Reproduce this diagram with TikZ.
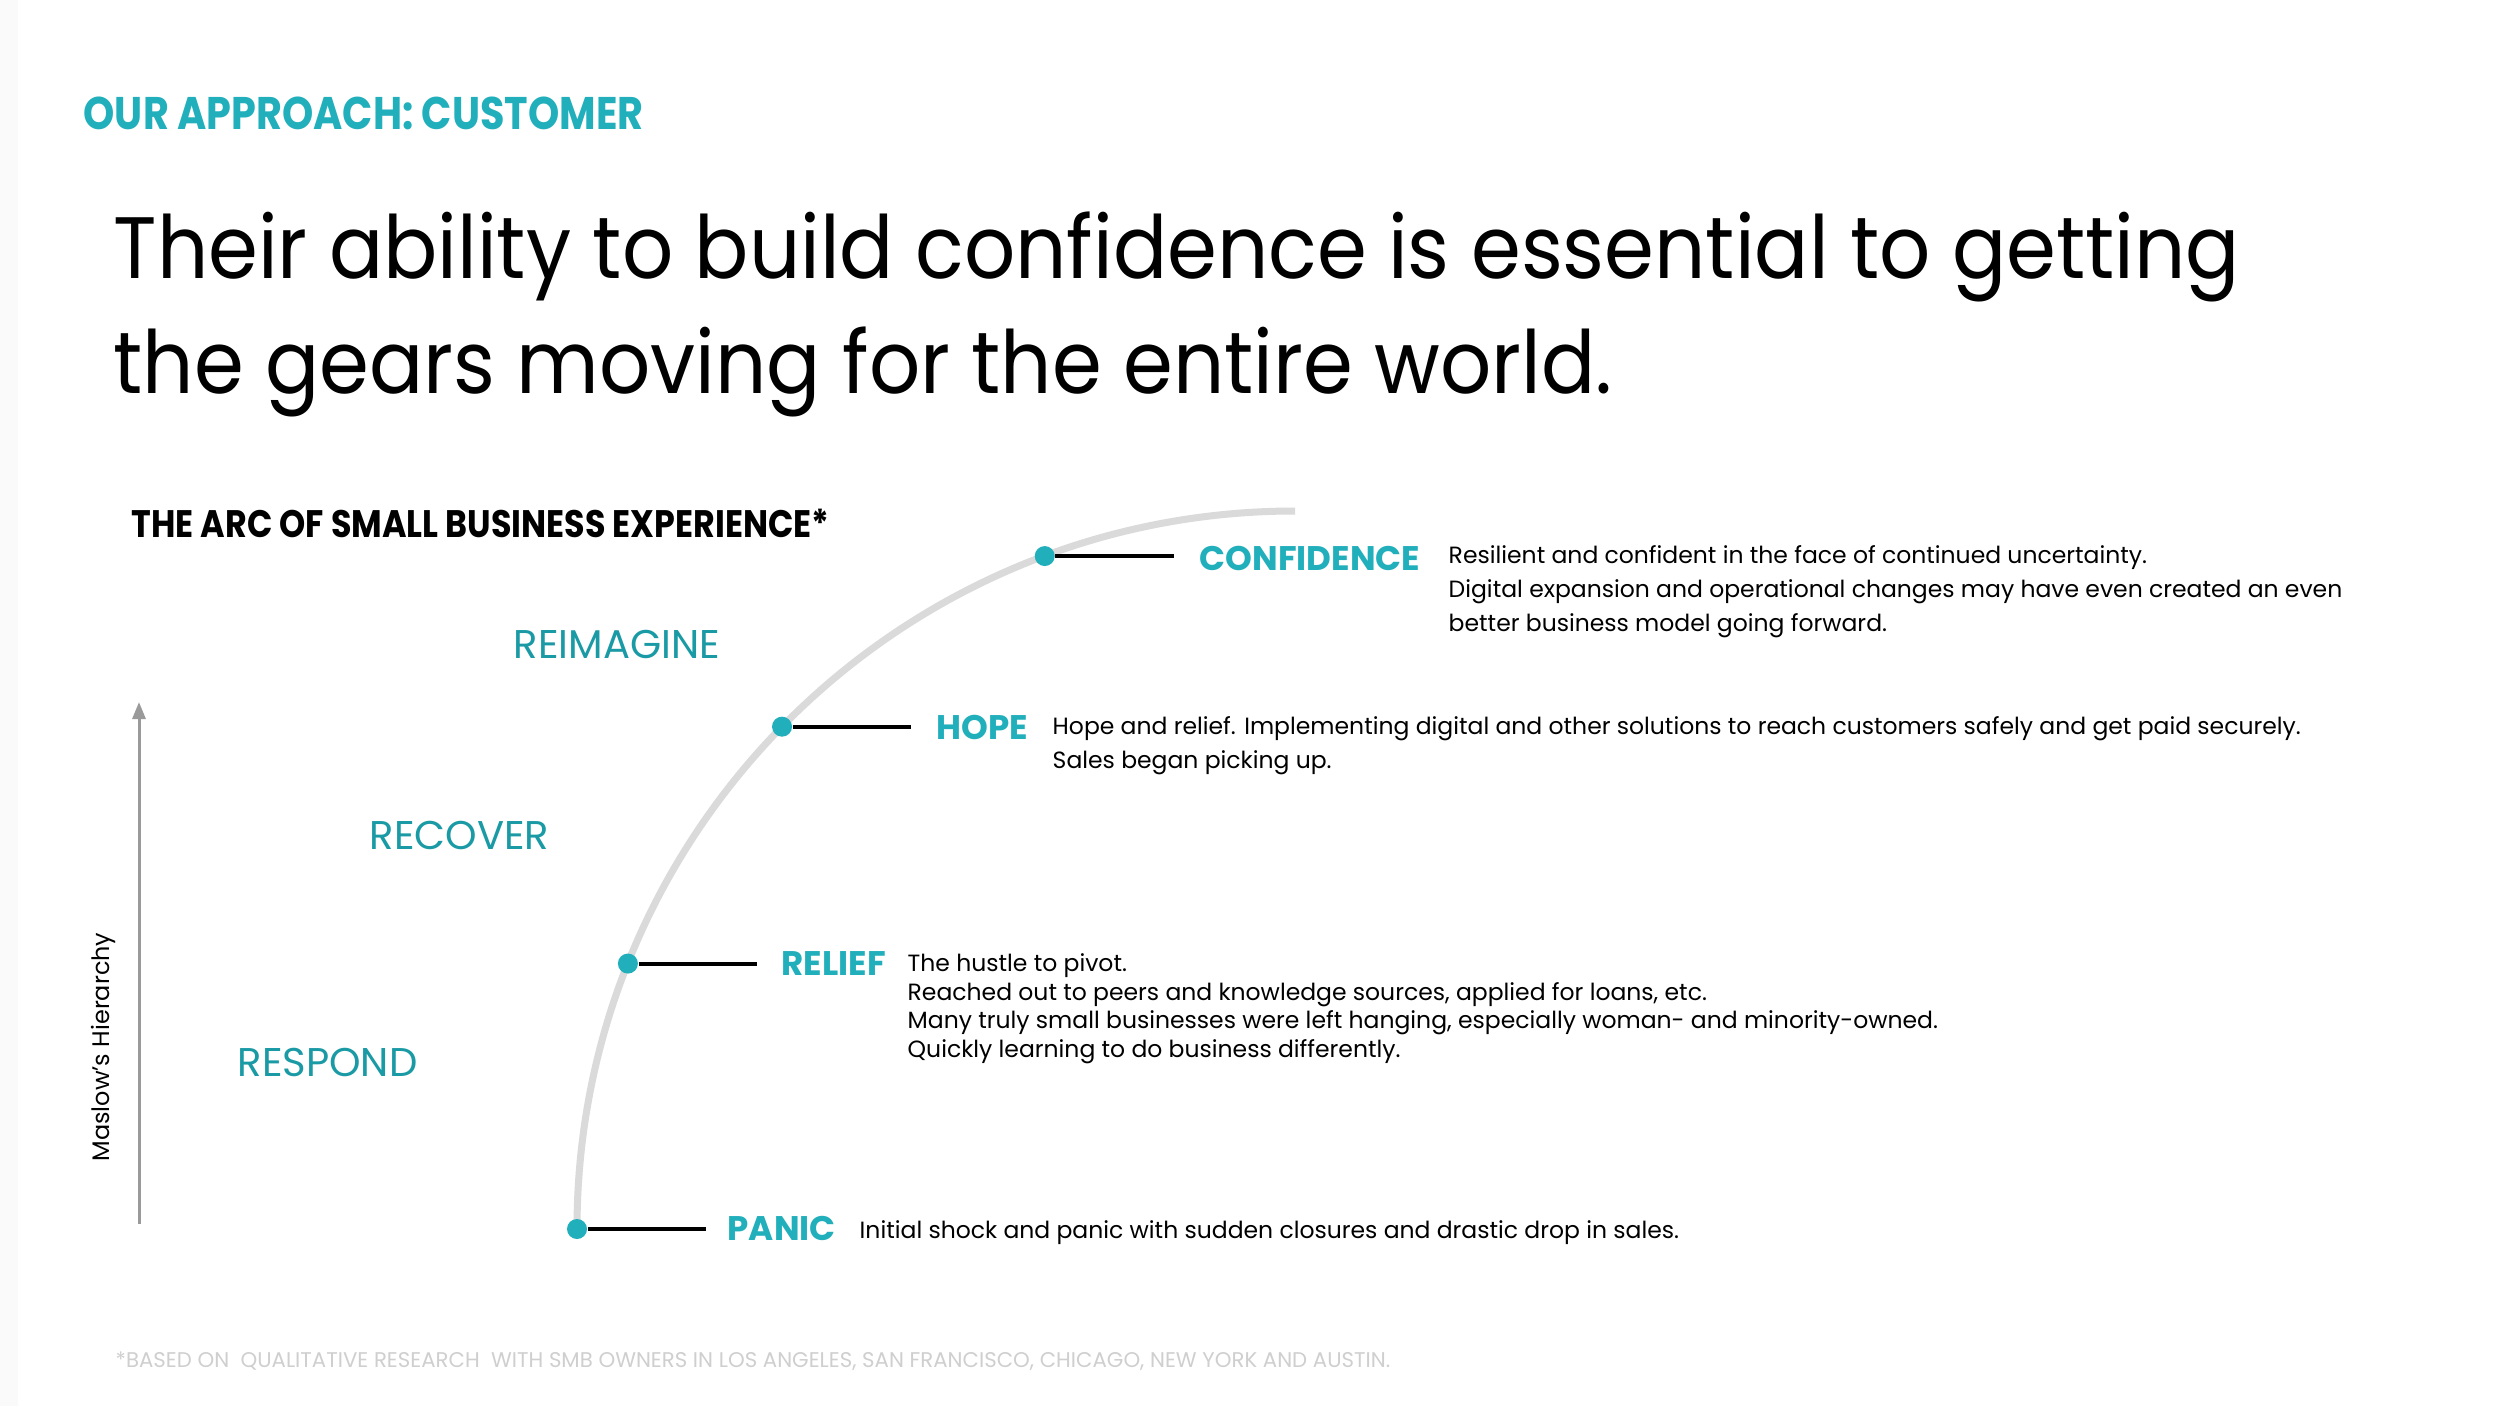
\documentclass[tikz,border=0pt]{standalone}
\usepackage{fontspec}
\setmainfont{Poppins}
\newfontfamily\narrowfont[FakeStretch=0.87]{Poppins}
\newfontfamily\headfont[FakeStretch=0.92]{Poppins}
\usepackage{xcolor}
\definecolor{arcTeal}{HTML}{22AFBC}
\definecolor{arcTealDark}{HTML}{1A9AA5}
\definecolor{arcGrey}{HTML}{DADADA}
\definecolor{axisGrey}{HTML}{9A9A9A}
\definecolor{noteGrey}{HTML}{CFCFCF}
\usepackage{tikz}
\usetikzlibrary{calc,arrows.meta}

\tikzset{
  stage/.style={anchor=base west, inner sep=0pt, text=arcTeal, font=\fontsize{9.7}{11}\selectfont\bfseries},
  phase/.style={anchor=base west, inner sep=0pt, text=arcTealDark, font=\fontsize{11.4}{13}\selectfont},
  blurb/.style={anchor=base west, inner sep=0pt, align=left, font=\fontsize{6.68}{9.6}\selectfont},
  dot/.style={circle, fill=arcTeal, inner sep=0pt, minimum size=0.2cm},
  lead/.style={line width=0.04cm, black},
}

\begin{document}
\begin{tikzpicture}[x=0.01cm, y=-0.01cm]
  \fill[white] (0,0) rectangle (2500,1406);
  \fill[black!2] (0,0) rectangle (18,1406);
  % ------- header -------
  \node[anchor=base west, inner sep=0pt, text=arcTeal, font=\narrowfont\bfseries\fontsize{13}{15}\selectfont] (kicker) at (83,129) {OUR APPROACH: CUSTOMER};
  % (multi-line nodes sit on the baseline of their last line)
  \node[anchor=base west, inner sep=0pt, align=left, font=\headfont\fontsize{24.8}{32.7}\selectfont] (headline) at (113,393)
    {Their ability to build confidence is essential to getting\\the gears moving for the entire world.};
  \node[anchor=base west, inner sep=0pt, font=\narrowfont\bfseries\fontsize{10.9}{13}\selectfont] (arctitle) at (131,537) {THE ARC OF SMALL BUSINESS EXPERIENCE*};
  % ------- the arc and its four stages -------
  \coordinate (hub) at (1295,1229);
  \draw[arcGrey, line width=0.07cm] ([shift={(180:718)}]hub) arc[start angle=180, end angle=270, radius=718];
  \node[dot] (dpanic) at ([shift={(180:718)}]hub) {};
  \node[dot] (drelief) at ([shift={(201.7:718)}]hub) {};
  \node[dot] (dhope) at ([shift={(224.4:718)}]hub) {};
  \node[dot] (dconf) at ([shift={(249.6:718)}]hub) {};
  \foreach \d in {dpanic,drelief,dhope,dconf}{
    \coordinate (e\d) at ([xshift=1.29cm]\d.center);
    \draw[lead] (\d) -- (e\d);
  }
  \node[stage] (lconf) at (1199,570) {CONFIDENCE};
  \node[stage] (lhope) at (936,739) {HOPE};
  \node[stage] (lrelief) at (781,975) {RELIEF};
  \node[stage] (lpanic) at (727,1240) {PANIC};
  \node[blurb] (tconf) at (1448,631)
    {Resilient and confident in the face of continued uncertainty.\\Digital expansion and operational changes may have even created an even\\better business model going forward.};
  \node[blurb] (thope) at (1052,768)
    {Hope and relief. Implementing digital and other solutions to reach customers safely and get paid securely.\\Sales began picking up.};
  \node[blurb, font=\fontsize{6.68}{8.1}\selectfont] (trelief) at (907,1057)
    {The hustle to pivot.\\Reached out to peers and knowledge sources, applied for loans, etc.\\Many truly small businesses were left hanging, especially woman- and minority-owned.\\Quickly learning to do business differently.};
  \node[blurb] (tpanic) at (859,1238) {Initial shock and panic with sudden closures and drastic drop in sales.};
  % ------- phases and the hierarchy axis -------
  \node[phase] (reimagine) at (513,658) {REIMAGINE};
  \node[phase] (recover) at (369,849) {RECOVER};
  \node[phase] (respond) at (237,1076) {RESPOND};
  \coordinate (abot) at (139,1224);
  \coordinate (atop) at (139,702);
  \draw[axisGrey, line width=0.03cm, -{Triangle[length=0.17cm, width=0.13cm]}] (abot) -- (atop);
  \node[rotate=90, anchor=base, inner sep=0pt, font=\fontsize{6.8}{8}\selectfont] (maslow) at (109,1047) {Maslow’s Hierarchy};
  % footnote
  \node[anchor=base west, inner sep=0pt, text=noteGrey, font=\fontsize{6.05}{7}\selectfont] (note) at (115,1367)
    {*BASED ON\ \ QUALITATIVE RESEARCH\ \ WITH SMB OWNERS IN LOS ANGELES, SAN FRANCISCO, CHICAGO, NEW YORK AND AUSTIN.};
\end{tikzpicture}
\end{document}
